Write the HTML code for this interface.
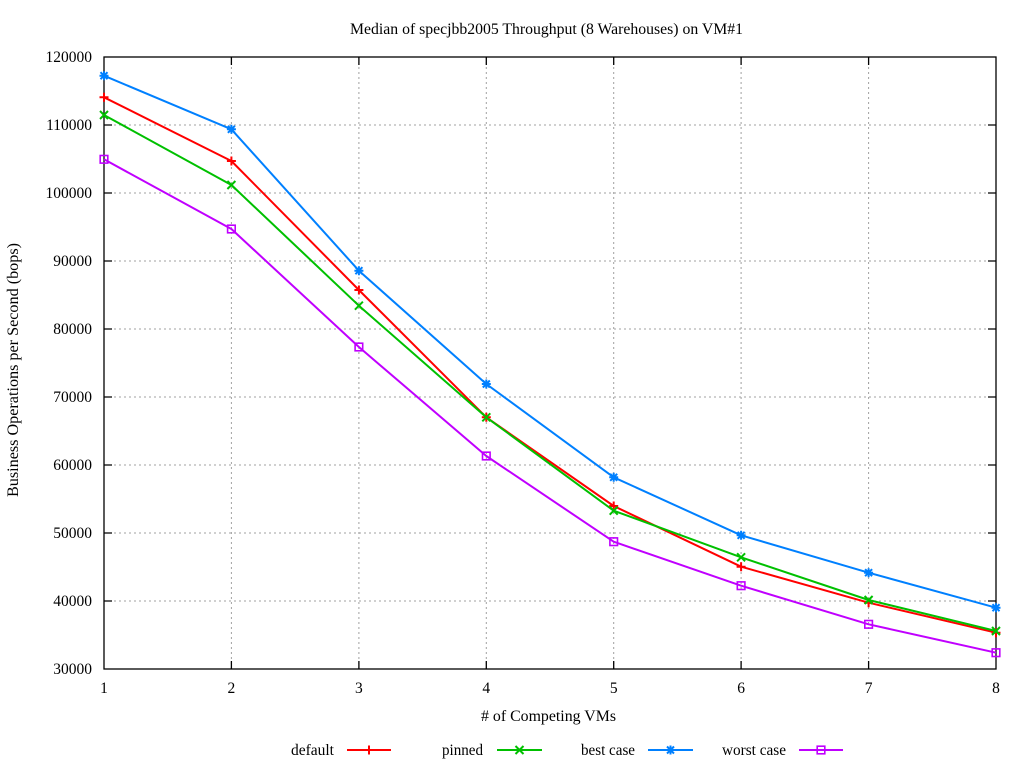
<!DOCTYPE html>
<html><head><meta charset="utf-8"><style>
html,body{margin:0;padding:0;background:#fff;}
svg{display:block;}
text{font-family:"Liberation Serif","DejaVu Serif",serif;font-size:15.5px;fill:#000;}
</style></head><body>
<svg width="1024" height="768" viewBox="0 0 1024 768" xmlns="http://www.w3.org/2000/svg">
<rect width="1024" height="768" fill="#fff"/>
<!-- grid -->
<g stroke="#a0a0a0" stroke-width="1" stroke-dasharray="2,3" fill="none">
<line x1="104" y1="125" x2="996" y2="125"/>
<line x1="104" y1="193" x2="996" y2="193"/>
<line x1="104" y1="261" x2="996" y2="261"/>
<line x1="104" y1="329" x2="996" y2="329"/>
<line x1="104" y1="397" x2="996" y2="397"/>
<line x1="104" y1="465" x2="996" y2="465"/>
<line x1="104" y1="533" x2="996" y2="533"/>
<line x1="104" y1="601" x2="996" y2="601"/>
<line x1="231.4" y1="57" x2="231.4" y2="669"/>
<line x1="358.9" y1="57" x2="358.9" y2="669"/>
<line x1="486.3" y1="57" x2="486.3" y2="669"/>
<line x1="613.7" y1="57" x2="613.7" y2="669"/>
<line x1="741.1" y1="57" x2="741.1" y2="669"/>
<line x1="868.6" y1="57" x2="868.6" y2="669"/>
</g>
<!-- border and ticks -->
<g stroke="#000" stroke-width="1.3" fill="none">
<rect x="104" y="57" width="892" height="612"/>
<path d="M104 125h8M104 193h8M104 261h8M104 329h8M104 397h8M104 465h8M104 533h8M104 601h8
M996 125h-8M996 193h-8M996 261h-8M996 329h-8M996 397h-8M996 465h-8M996 533h-8M996 601h-8
M231.4 669v-8M358.9 669v-8M486.3 669v-8M613.7 669v-8M741.1 669v-8M868.6 669v-8
M231.4 57v8M358.9 57v8M486.3 57v8M613.7 57v8M741.1 57v8M868.6 57v8"/>
</g>
<!-- y tick labels -->
<g text-anchor="end">
<text x="92" y="62">120000</text>
<text x="92" y="130">110000</text>
<text x="92" y="198">100000</text>
<text x="92" y="266">90000</text>
<text x="92" y="334">80000</text>
<text x="92" y="402">70000</text>
<text x="92" y="470">60000</text>
<text x="92" y="538">50000</text>
<text x="92" y="606">40000</text>
<text x="92" y="674">30000</text>
</g>
<!-- x tick labels -->
<g text-anchor="middle">
<text x="104" y="693">1</text>
<text x="231.4" y="693">2</text>
<text x="358.9" y="693">3</text>
<text x="486.3" y="693">4</text>
<text x="613.7" y="693">5</text>
<text x="741.1" y="693">6</text>
<text x="868.6" y="693">7</text>
<text x="996" y="693">8</text>
</g>
<text x="546.5" y="34" text-anchor="middle" textLength="393" lengthAdjust="spacingAndGlyphs">Median of specjbb2005 Throughput (8 Warehouses) on VM#1</text>
<text x="548.5" y="721" text-anchor="middle" textLength="135" lengthAdjust="spacingAndGlyphs"># of Competing VMs</text>
<text transform="translate(18,370) rotate(-90)" text-anchor="middle" textLength="254" lengthAdjust="spacingAndGlyphs">Business Operations per Second (bops)</text>

<!-- series -->
<g fill="none" stroke-width="2" stroke-linejoin="round">
<polyline stroke="#ff0000" points="104,97.3 231.4,161 358.9,290 486.3,417.3 613.7,506 741.1,566.7 868.6,602.7 996,632.7"/>
<polyline stroke="#00c000" points="104,115 231.4,185 358.9,305.7 486.3,417.3 613.7,510.7 741.1,557.3 868.6,600 996,631"/>
<polyline stroke="#0080ff" points="104,75.7 231.4,129.3 358.9,270.7 486.3,384 613.7,477.3 741.1,535.3 868.6,572.7 996,607.7"/>
<polyline stroke="#c000ff" points="104,159.3 231.4,229 358.9,347 486.3,456 613.7,541.7 741.1,585.7 868.6,624.3 996,652.7"/>
</g>
<!-- markers -->
<defs>
<g id="mp"><path d="M-4.5 0h9M0 -4.5v9" stroke="#ff0000" stroke-width="2" fill="none"/></g>
<g id="mx"><path d="M-4 -4L4 4M-4 4L4 -4" stroke="#00c000" stroke-width="2" fill="none"/></g>
<g id="ms"><path d="M-4.5 0h9M0 -4.5v9M-3.5 -3.5L3.5 3.5M-3.5 3.5L3.5 -3.5" stroke="#0080ff" stroke-width="2" fill="none"/></g>
<g id="mq"><rect x="-3.8" y="-3.8" width="7.6" height="7.6" stroke="#c000ff" stroke-width="1.6" fill="none"/></g>
</defs>
<g>
<use href="#mp" x="104" y="97.3"/><use href="#mp" x="231.4" y="161"/><use href="#mp" x="358.9" y="290"/><use href="#mp" x="486.3" y="417.3"/><use href="#mp" x="613.7" y="506"/><use href="#mp" x="741.1" y="566.7"/><use href="#mp" x="868.6" y="602.7"/><use href="#mp" x="996" y="632.7"/>
<use href="#mx" x="104" y="115"/><use href="#mx" x="231.4" y="185"/><use href="#mx" x="358.9" y="305.7"/><use href="#mx" x="486.3" y="417.3"/><use href="#mx" x="613.7" y="510.7"/><use href="#mx" x="741.1" y="557.3"/><use href="#mx" x="868.6" y="600"/><use href="#mx" x="996" y="631"/>
<use href="#ms" x="104" y="75.7"/><use href="#ms" x="231.4" y="129.3"/><use href="#ms" x="358.9" y="270.7"/><use href="#ms" x="486.3" y="384"/><use href="#ms" x="613.7" y="477.3"/><use href="#ms" x="741.1" y="535.3"/><use href="#ms" x="868.6" y="572.7"/><use href="#ms" x="996" y="607.7"/>
<use href="#mq" x="104" y="159.3"/><use href="#mq" x="231.4" y="229"/><use href="#mq" x="358.9" y="347"/><use href="#mq" x="486.3" y="456"/><use href="#mq" x="613.7" y="541.7"/><use href="#mq" x="741.1" y="585.7"/><use href="#mq" x="868.6" y="624.3"/><use href="#mq" x="996" y="652.7"/>
</g>
<!-- legend -->
<g text-anchor="end">
<text x="334" y="755" textLength="43" lengthAdjust="spacingAndGlyphs">default</text>
<text x="483" y="755" textLength="41" lengthAdjust="spacingAndGlyphs">pinned</text>
<text x="635" y="755" textLength="54" lengthAdjust="spacingAndGlyphs">best case</text>
<text x="786" y="755" textLength="64" lengthAdjust="spacingAndGlyphs">worst case</text>
</g>
<g stroke-width="2" fill="none">
<line x1="347" y1="750" x2="391" y2="750" stroke="#ff0000"/>
<line x1="497" y1="750" x2="542" y2="750" stroke="#00c000"/>
<line x1="648" y1="750" x2="693" y2="750" stroke="#0080ff"/>
<line x1="799" y1="750" x2="843" y2="750" stroke="#c000ff"/>
</g>
<use href="#mp" x="369" y="750"/>
<use href="#mx" x="519.5" y="750"/>
<use href="#ms" x="670.5" y="750"/>
<use href="#mq" x="821" y="750"/>
</svg>
</body></html>
